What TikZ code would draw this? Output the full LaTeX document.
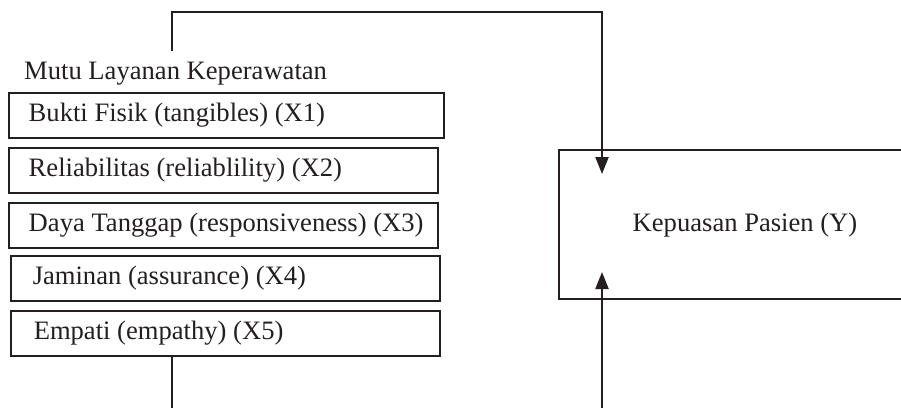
\documentclass[tikz,border=0pt]{standalone}
\usepackage{fontspec}
\setmainfont{Liberation Serif}
\usetikzlibrary{arrows.meta}
\definecolor{ink}{HTML}{231F20}
\begin{document}
\begin{tikzpicture}[x=1pt,y=-1pt,
  every node/.style={font=\fontsize{26.6}{30}\selectfont, text=ink},
  dimbox/.style={draw=ink, line width=1.5pt, anchor=north west, inner xsep=0pt, inner ysep=0pt, minimum height=45pt},
  conn/.style={draw=ink, line width=2.2pt},
  tip/.style={-{Triangle[width=13pt,length=17pt]}}]
\useasboundingbox (0,0) rectangle (901,407);
\clip (0,0) rectangle (901,407);
% left boxes
\node[dimbox] (x1) at (8,92) {\makebox[435pt][l]{\hspace*{20pt}Bukti Fisik (tangibles) (X1)}};
\node[dimbox] (x2) at (8,147) {\makebox[429pt][l]{\hspace*{20pt}Reliabilitas (reliablility) (X2)}};
\node[dimbox] (x3) at (8,202) {\makebox[429pt][l]{\hspace*{20pt}Daya Tanggap (responsiveness) (X3)}};
\node[dimbox] (x4) at (10,255) {\makebox[429pt][l]{\hspace*{22pt}Jaminan (assurance) (X4)}};
\node[dimbox] (x5) at (10,310) {\makebox[429pt][l]{\hspace*{23pt}Empati (empathy) (X5)}};
\node[anchor=base west, inner sep=0pt] (title) at (24,79) {Mutu Layanan Keperawatan};
% right box (extends beyond the cropped edge)
\node[draw=ink, line width=1.5pt, anchor=north west, minimum width=400pt, minimum height=149pt, inner sep=0pt] (y) at (558,149) {};
\node[inner sep=0pt] (ylabel) at (745,225) {Kepuasan Pasien (Y)};
% connectors
\coordinate (ts) at (172,51);
\coordinate (tc1) at (172,12);
\coordinate (tc2) at (602,12);
\coordinate (tt) at (602,174);
\draw[conn, tip] (ts) -- (tc1) -- (tc2) -- (tt);
\coordinate (bs) at (172,410);
\draw[conn] (x5.south west -| ts) -- (bs);
\coordinate (ub) at (602,410);
\coordinate (ut) at (602,272);
\draw[conn, tip] (ub) -- (ut);
\end{tikzpicture}
\end{document}
